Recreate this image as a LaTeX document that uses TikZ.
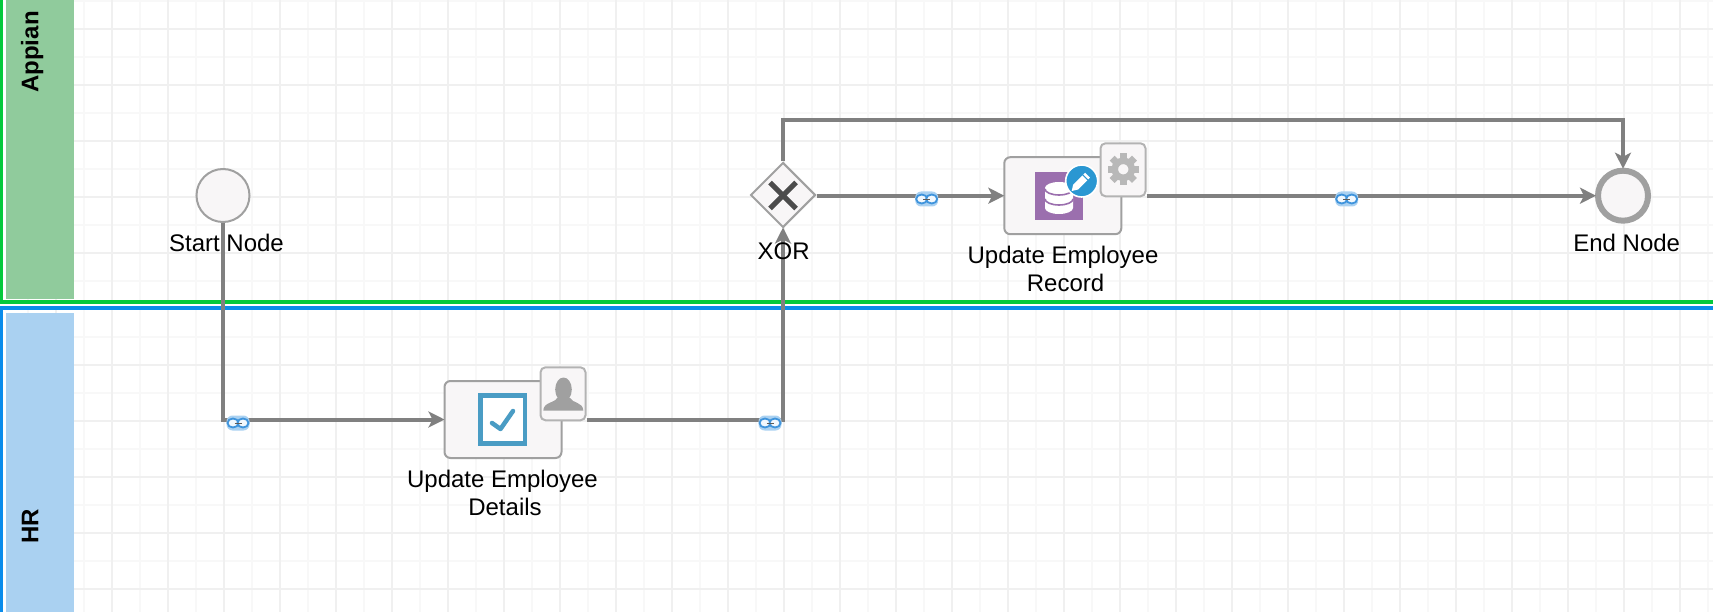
\documentclass[tikz,border=0pt]{standalone}
\usepackage{fontspec}
\setmainfont{Liberation Sans}
\usetikzlibrary{arrows.meta,shapes.geometric}
\definecolor{nodefill}{HTML}{F8F6F7}
\definecolor{nodeline}{HTML}{A0A0A0}
\definecolor{flowline}{HTML}{808080}
\definecolor{gridmajor}{HTML}{F0F0F0}
\definecolor{gridminor}{HTML}{F8F8F8}
\definecolor{appianband}{HTML}{90CB9C}
\definecolor{appianline}{HTML}{05C93C}
\definecolor{hrband}{HTML}{AAD1F1}
\definecolor{hrline}{HTML}{0A8CEB}
\definecolor{checkblue}{HTML}{4A9CC4}
\definecolor{dbpurple}{HTML}{9B6FAE}
\definecolor{penblue}{HTML}{2A97D2}
\definecolor{gearshade}{HTML}{B8B8B8}
\definecolor{linkring}{HTML}{3F94DC}
\tikzset{
  flow/.style={draw=flowline, line width=4pt, shorten >=-1pt, -{Stealth[length=16pt,width=16pt,inset=4pt]}},
  eventnode/.style={circle, draw=nodeline, fill=nodefill, line width=2pt, minimum size=53pt, inner sep=0pt},
  taskbox/.style={rectangle, rounded corners=6pt, draw=nodeline, fill=nodefill, line width=2pt, minimum width=117pt, minimum height=77pt, inner sep=0pt},
  badge/.style={rectangle, rounded corners=5pt, draw=nodeline!80, fill=nodefill, line width=2pt, minimum width=45pt, minimum height=53pt, inner sep=0pt},
  lbl/.style={anchor=base, inner sep=0pt, align=center, font=\fontsize{24}{28}\selectfont},
  lanelbl/.style={anchor=base, inner sep=0pt, rotate=90, font=\fontsize{24}{28}\selectfont\bfseries},
  linkicon/.pic={
    \fill[hrband, rounded corners=6pt] (-11.5,-7.5) rectangle (11.5,7.5);
    \filldraw[fill=white!85!hrband, draw=linkring, line width=1.8pt] (-5,0) ellipse (5.5 and 4.5);
    \filldraw[fill=white!85!hrband, draw=linkring, line width=1.8pt] (5,0) ellipse (5.5 and 4.5);
    \draw[flowline!70!black, line width=1.4pt] (-3.5,0.5) -- (3.5,0.5);
  }
}
\begin{document}
\begin{tikzpicture}[x=1pt, y=-1pt]
    \useasboundingbox (0,0) rectangle (1713,612);

    \foreach \x in {28,84,...,1708}
        \draw[gridminor, line width=1.5pt] (\x,0) -- (\x,612);
    \foreach \y in {1,57,...,601}
        \draw[gridminor, line width=1.5pt] (6,\y) -- (1713,\y);
    \foreach \x in {56,112,...,1680}
        \draw[gridmajor, line width=2.5pt] (\x,0) -- (\x,612);
    \foreach \y in {29,85,...,589}
        \draw[gridmajor, line width=2.5pt] (6,\y) -- (1713,\y);

    \fill[white] (0,0) rectangle (6,612);
    \fill[appianband] (6,0) rectangle (74,299);
    \fill[hrband] (6,313) rectangle (74,612);
    \fill[appianline] (0,0) rectangle (3,304);
    \fill[appianline] (0,300) rectangle (1713,304);
    \fill[white] (0,304) rectangle (1713,306);
    \fill[hrline] (0,306) rectangle (1713,310);
    \fill[hrline] (0,306) rectangle (3,612);

    \node[lanelbl] (appian) at (38.3,52) {Appian};
    \node[lanelbl] (hr) at (38.3,526) {HR};

    \node[eventnode] (start) at (223,195.5) {};
    \node[eventnode, line width=6pt, minimum size=50pt] (finish) at (1623,195.7) {};
    \node[diamond, draw=nodeline, fill=nodefill, line width=2pt, minimum width=65pt, minimum height=65pt, inner sep=0pt] (xor) at (783,195) {};
    \node[taskbox] (details) at (503,419.5) {};
    \node[taskbox] (record) at (1062.8,195.7) {};
    \node[badge] (person) at (563,393.8) {};
    \node[badge] (gear) at (1123,169.8) {};
    \coordinate (bend) at (1623,120);

    \draw[flow] (start.south) |- (details.west);
    \draw[flow] (person.east |- details.west) -| (xor.south);
    \draw[flow] (xor.east |- record.west) -- (record.west);
    \draw[flow] (gear.east |- record.west) -- (finish.west);
    \draw[flow] (xor.north) |- (bend) -- (finish.north);

    \pic at (238,423) {linkicon};
    \pic at (770,423) {linkicon};
    \pic at (926.7,199) {linkicon};
    \pic at (1346.7,199) {linkicon};

    \draw[black!70, line width=5pt] (770,182.5) -- (796,208.5);
    \draw[black!70, line width=5pt] (796,182.5) -- (770,208.5);

    \draw[checkblue, line width=4.5pt, fill=white] (480.5,395.5) rectangle (525,443.5);
    \draw[checkblue, line width=4.5pt, line cap=round, line join=round] (492,423) -- (500.5,429) -- (513,411);

    \fill[nodeline] (563.5,389.5) ellipse (8.3 and 12);
    \fill[nodeline] (543.3,410.7) .. controls (543.3,402) and (555,403) .. (557,398) -- (570,398) .. controls (572,403) and (583.3,402) .. (583.3,410.7) -- cycle;

    \fill[dbpurple] (1035,172) rectangle (1083,220);
    \fill[white] (1045,188) -- (1073,188) -- (1073,208) arc (0:180:14 and 6) -- cycle;
    \fill[white] (1059,188) ellipse (14 and 6);
    \foreach \y in {189,199}
        \draw[dbpurple, line width=1.6pt] (1045,\y) arc (180:0:14 and 6);

    \filldraw[fill=penblue, draw=white, line width=1.6pt] (1081.7,181) circle (16);
    \fill[white, rotate around={45:(1081.7,181)}] (1073,177.6) -- (1090,177.6) -- (1090,184.4) -- (1073,184.4) -- (1067.5,181) -- cycle;
    \draw[penblue, line width=1pt, rotate around={45:(1081.7,181)}] (1086.8,177) -- (1086.8,185);

    \foreach \a in {0,45,...,315}
        \fill[gearshade, rotate around={\a:(1123.3,169.3)}] (1119.8,153.5) rectangle (1126.8,160);
    \filldraw[fill=nodefill, draw=gearshade, line width=6.5pt] (1123.3,169.3) circle (8.5);

    \node[lbl] (startlabel) at (226.5,251.7) {Start Node};
    \node[lbl] (xorlabel) at (783.7,260) {XOR};
    \node[lbl] (recordlabel) at (1063,291.7) {Update Employee\\\hspace*{5pt}Record};
    \node[lbl] (detailslabel) at (502.5,515.7) {Update Employee\\\hspace*{5pt}Details};
    \node[lbl] (finishlabel) at (1626.7,251.7) {End Node};
\end{tikzpicture}
\end{document}
